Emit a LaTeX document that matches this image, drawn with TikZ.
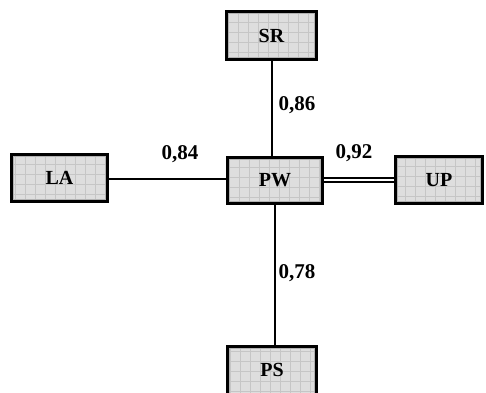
\documentclass[tikz,border=0pt]{standalone}
\usepackage{fontspec}
\setmainfont{Liberation Serif}
\begin{document}
\begin{tikzpicture}[x=1pt,y=1pt,
  boxnode/.style={draw=black, line width=3pt, fill=gray!26, inner sep=0pt,
    font=\fontsize{20}{24}\selectfont\bfseries,
    path picture={\draw[gray!45, line width=0.6pt, step=10pt]
      (path picture bounding box.south west) grid (path picture bounding box.north east);
      \draw[gray!60, line width=1pt] ([shift={(2pt,2pt)}]path picture bounding box.south west) rectangle ([shift={(-2pt,-2pt)}]path picture bounding box.north east);}},
  conn/.style={line width=2pt},
  lbl/.style={font=\fontsize{21}{24}\selectfont\bfseries}]
\useasboundingbox (0,0) rectangle (486,392);
\clip (0,0) rectangle (486,392);
\fill[white] (0,0) rectangle (486,392);
\node[boxnode, minimum width=90pt, minimum height=48pt] (SR) at (271.5,356.5) {SR};
\node[boxnode, minimum width=95pt, minimum height=46pt] (PW) at (275,211.5) {PW};
\node[boxnode, minimum width=96pt, minimum height=47pt] (LA) at (59.5,214) {LA};
\node[boxnode, minimum width=87pt, minimum height=47pt] (UP) at (439,212) {UP};
\node[boxnode, minimum width=89pt, minimum height=62pt] (PS) at (272,14.5) {\raisebox{15pt}{PS}};
\draw[conn] (SR.south) -- (SR.south |- PW.north);
\draw[conn] (LA.east |- 0,213) -- (PW.west |- 0,213);
\draw[line width=1.6pt, double, double distance=2pt] (PW.east |- 0,212) -- (UP.west |- 0,212);
\draw[conn] (PW.south) -- (PW.south |- PS.north);
\node[lbl] (l86) at (297,287) {0,86};
\node[lbl] (l84) at (180,238) {0,84};
\node[lbl] (l92) at (354,239) {0,92};
\node[lbl] (l78) at (297,119) {0,78};
\end{tikzpicture}
\end{document}
